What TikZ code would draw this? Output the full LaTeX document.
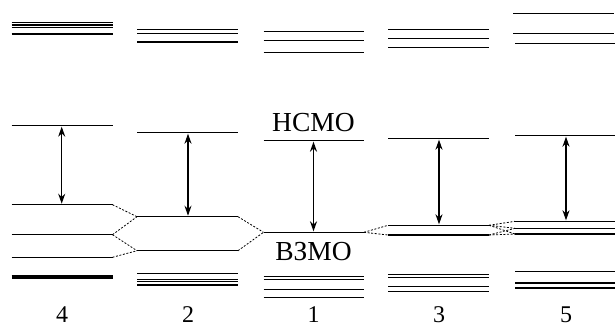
\documentclass[tikz,border=0pt]{standalone}
\usepackage{fontspec}
\setmainfont{Liberation Serif}
\usetikzlibrary{arrows.meta}
\begin{document}
\begin{tikzpicture}[x=1pt,y=-1pt,
  level/.style={line width=1.15pt},
  gap/.style={{Stealth[length=10pt,width=7pt]}-{Stealth[length=10pt,width=7pt]}, line width=1.1pt, shorten <=1pt, shorten >=1pt},
  corr/.style={line width=0.8pt, dash pattern=on 2pt off 1.6pt},
  lab/.style={font=\fontsize{27.5}{27.5}\selectfont, inner sep=0pt, anchor=base},
  num/.style={font=\fontsize{24}{24}\selectfont, inner sep=0pt, anchor=base}]
\useasboundingbox (0,0) rectangle (615,327);

% ---- column 4 (x 11.5 .. 112.5)
\foreach \y in {22.7,25,27.7,34} \draw[level] (11.5,\y) -- (112.5,\y);
\coordinate (L4) at (61.7,125.7);
\draw[level] (11.5,125.7) -- (112.5,125.7);
\coordinate (A4l) at (11.5,204.7);  \coordinate (A4r) at (112.5,204.7);
\coordinate (B4l) at (11.5,234.7);  \coordinate (B4r) at (112.5,234.7);
\coordinate (C4l) at (11.5,257.3);  \coordinate (C4r) at (112.5,257.3);
\draw[level] (A4l) -- (A4r);
\draw[level] (B4l) -- (B4r);
\draw[level] (C4l) -- (C4r);
\draw[line width=4.2pt] (11.5,277) -- (112.5,277);
\coordinate (H4) at (61.7,204.7);
\draw[gap] (L4) -- (H4);

% ---- column 2 (x 137 .. 238)
\foreach \y in {29.7,33.7,42} \draw[level] (137,\y) -- (238,\y);
\draw[level] (137,132.7) -- (238,132.7);
\coordinate (L2) at (188,132.7);
\coordinate (A2l) at (137,216.7);  \coordinate (A2r) at (238,216.7);
\coordinate (B2l) at (137,250.7);  \coordinate (B2r) at (238,250.7);
\draw[level] (A2l) -- (A2r);
\draw[level] (B2l) -- (B2r);
\foreach \y in {273.3,279.2,281.8,285} \draw[level] (137,\y) -- (238,\y);
\coordinate (H2) at (188,216.7);
\draw[gap] (L2) -- (H2);

% ---- column 1 (x 263.5 .. 364)
\foreach \y in {31.7,40.7,52.3} \draw[level] (263.5,\y) -- (364,\y);
\draw[level] (263.5,140.7) -- (364,140.7);
\coordinate (L1) at (313.5,140.7);
\coordinate (A1l) at (263.5,232.3); \coordinate (A1r) at (364,232.3);
\draw[level] (A1l) -- (A1r);
\foreach \y in {276.7,279.6,289.3,297.7} \draw[level] (263.5,\y) -- (364,\y);
\coordinate (H1) at (313.5,232.3);
\draw[gap] (L1) -- (H1);
\node[lab] (lumo) at (313.5,131) {НСМО};
\node[lab] (homo) at (313.5,260) {ВЗМО};

% ---- column 3 (x 388 .. 489)
\foreach \y in {29.3,38.3,47.7} \draw[level] (388,\y) -- (489,\y);
\draw[level] (388,138.7) -- (489,138.7);
\coordinate (L3) at (439,138.7);
\coordinate (A3l) at (388,225.3); \coordinate (A3r) at (489,225.3);
\coordinate (B3l) at (388,235);   \coordinate (B3r) at (489,235);
\draw[level] (A3l) -- (A3r);
\draw[level] (B3l) -- (B3r);
\foreach \y in {274.3,277.7,286.7,291.5} \draw[level] (388,\y) -- (489,\y);
\coordinate (H3) at (439,225.3);
\draw[gap] (L3) -- (H3);

% ---- column 5 (x 513 .. 614)
\draw[level] (513,13.7) -- (614,13.7);
\draw[level] (513,33.7) -- (614,33.7);
\draw[level] (515,43.7) -- (615,43.7);
\draw[level] (515,135.7) -- (615,135.7);
\coordinate (L5) at (566,135.7);
\coordinate (A5l) at (515,221.3);
\coordinate (B5l) at (515,228.3);
\coordinate (C5l) at (515,234);
\draw[level] (A5l) -- (615,221.3);
\draw[level] (B5l) -- (615,228.3);
\draw[level] (C5l) -- (615,234);
\foreach \y in {271.7,283,288} \draw[level] (515,\y) -- (615,\y);
\coordinate (H5) at (566,221.3);
\draw[gap] (L5) -- (H5);

% ---- correlation lines
\draw[corr] (A4r) -- (A2l);
\draw[corr] (B4r) -- (A2l);
\draw[corr] (B4r) -- (B2l);
\draw[corr] (C4r) -- (B2l);
\draw[corr] (A2r) -- (A1l);
\draw[corr] (B2r) -- (A1l);
\draw[corr] (A1r) -- (A3l);
\draw[corr] (A1r) -- (B3l);
\draw[corr] (A3r) -- (A5l);
\draw[corr] (A3r) -- (B5l);
\draw[corr] (A3r) -- (C5l);
\draw[corr] (B3r) -- (B5l);
\draw[corr] (B3r) -- (C5l);

% ---- compound numbers
\node[num] (n4) at (62,322) {4};
\node[num] (n2) at (188,322) {2};
\node[num] (n1) at (313.5,322) {1};
\node[num] (n3) at (439,322) {3};
\node[num] (n5) at (566,322) {5};
\end{tikzpicture}
\end{document}
